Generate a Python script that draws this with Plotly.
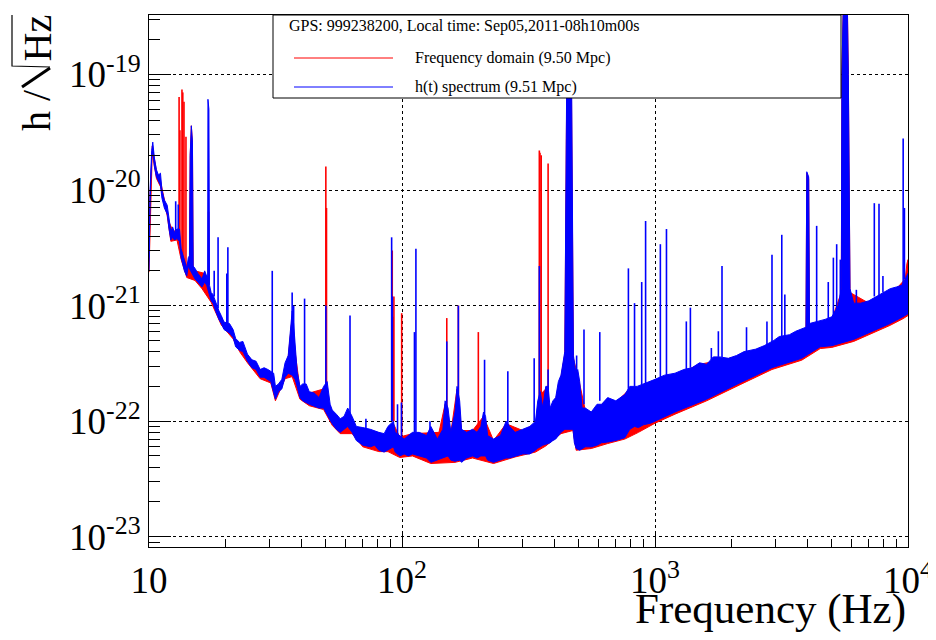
import plotly.graph_objects as go

# ---------------- data ----------------
# h(t) spectrum (blue): upper / lower edge of the noise band
ht_band_f_hi = [10.0, 10.1, 10.25, 10.35, 10.5, 10.7, 10.9, 11.1, 11.25, 11.5, 11.8, 12.0, 12.2, 12.4, 12.6,
                12.9, 13.2, 13.4, 13.8, 14.1, 14.3, 14.45, 14.55, 14.7, 14.85, 14.95, 15.2, 15.6, 16.2, 16.6,
                16.9, 17.05, 17.1, 17.25, 17.35, 17.6, 17.9, 18.4, 18.9, 19.3, 19.8, 20.8, 21.5, 22.0, 22.8,
                23.5, 24.5, 25.5, 26.5, 27.5, 28.5, 29.5, 30.3, 31.1, 31.6, 32.5, 33.5, 34.5, 35.5, 36.2,
                36.8, 37.3, 37.8, 38.5, 39.5, 40.5, 41.8, 43.0, 45.0, 47.0, 49.0, 50.6, 52.0, 53.0, 55.0,
                57.0, 59.0, 61.0, 63.5, 66.0, 70.0, 75.0, 81.0, 85.0, 88.0, 92.5, 94.0, 98.0, 102, 106,
                110, 117, 125, 130, 138, 145, 148, 152, 156, 162, 165, 169, 172, 180, 190,
                198, 205, 210, 214, 218, 230, 245, 258, 266, 280, 300, 320, 337, 344, 352,
                360, 370, 378, 385, 395, 405, 415, 425, 440, 446, 450, 466, 470, 476, 488,
                495, 504, 515, 530, 560, 590, 615, 650, 700, 760, 795, 850, 900, 960, 1000,
                1090, 1200, 1300, 1400, 1500, 1600, 1700, 1800, 1950, 2100, 2250, 2500, 2700, 2950, 3100,
                3400, 3600, 3850, 3950, 3980, 4050, 4080, 4300, 4700, 5000, 5300, 5450, 5480, 5560, 5750,
                5810, 5860, 5900, 6100, 6500, 7000, 7500, 8000, 8500, 9000, 9450, 9750, 10000]
ht_band_hi = [2.6e-21, 1.0e-20, 2.2e-20, 2.6e-20, 1.9e-20, 1.5e-20, 1.35e-20, 1.4e-20, 1.0e-20, 8.2e-21, 7.4e-21, 5.5e-21, 4.4e-21, 4.8e-21, 4.3e-21,
              4.6e-21, 4.6e-21, 3.1e-21, 2.4e-21, 2.1e-21, 2.6e-21, 2.7e-21, 2.0e-20, 3.6e-20, 2.6e-20, 2.2e-21, 2.1e-21, 1.9e-21, 1.7e-21, 2.0e-21,
              1.8e-21, 1.8e-21, 6.1e-20, 5.0e-20, 1.5e-21, 1.3e-21, 1.25e-21, 1.05e-21, 9.0e-22, 8.2e-22, 7.2e-22, 7.0e-22, 6.2e-22, 5.2e-22, 4.8e-22,
              4.9e-22, 3.8e-22, 3.4e-22, 3.3e-22, 2.8e-22, 2.9e-22, 2.8e-22, 2.7e-22, 2.6e-22, 2.0e-22, 2.1e-22, 2.3e-22, 3.2e-22, 3.7e-22, 6.0e-22,
              9.0e-22, 7.0e-22, 4.2e-22, 2.7e-22, 2.0e-22, 2.1e-22, 2.1e-22, 1.8e-22, 1.75e-22, 1.6e-22, 2.0e-22, 2.2e-22, 1.4e-22, 1.25e-22, 1.15e-22,
              1.05e-22, 1.1e-22, 1.3e-22, 1.1e-22, 9.0e-23, 8.8e-23, 8.5e-23, 8.0e-23, 7.8e-23, 9.0e-23, 1.0e-22, 8.0e-23, 7.5e-23, 7.0e-23, 7.5e-23,
              8.0e-23, 8.0e-23, 7.5e-23, 9.0e-23, 7.0e-23, 8.5e-23, 1.5e-22, 1.3e-22, 8.0e-23, 1.2e-22, 2.0e-22, 1.5e-22, 8.5e-23, 8.0e-23, 8.5e-23,
              8.0e-23, 9.0e-23, 1.2e-22, 1.1e-22, 7.5e-23, 7.0e-23, 7.5e-23, 1.0e-22, 9.0e-23, 8.0e-23, 8.5e-23, 9.0e-23, 1.0e-22, 1.5e-22, 1.8e-22,
              1.3e-22, 2.0e-22, 2.0e-22, 1.3e-22, 1.5e-22, 1.6e-22, 2.2e-22, 2.5e-22, 4.0e-22, 2.8e-20, 4.0e-19, 4.0e-19, 3.0e-20, 3.7e-22, 2.5e-22,
              2.8e-22, 2.2e-22, 1.3e-22, 1.3e-22, 1.2e-22, 1.4e-22, 1.4e-22, 1.6e-22, 1.5e-22, 1.7e-22, 2.0e-22, 2.0e-22, 2.1e-22, 2.2e-22, 2.3e-22,
              2.5e-22, 2.6e-22, 2.8e-22, 2.9e-22, 3.2e-22, 3.1e-22, 3.6e-22, 3.6e-22, 3.5e-22, 3.7e-22, 4.0e-22, 4.2e-22, 4.5e-22, 5.0e-22, 5.4e-22,
              5.6e-22, 6.0e-22, 6.3e-22, 6.5e-22, 1.44e-20, 1.3e-20, 7.0e-22, 7.2e-22, 7.6e-22, 8.0e-22, 1.0e-21, 1.4e-21, 1.0e-19, 5.0e-19, 5.0e-19,
              1.0e-19, 3.8e-21, 1.4e-21, 1.05e-21, 1.05e-21, 1.1e-21, 1.2e-21, 1.3e-21, 1.4e-21, 1.45e-21, 1.5e-21, 1.7e-21, 1.9e-21]

ht_band_f_lo = [10.0, 10.1, 10.25, 10.35, 10.5, 10.7, 10.9, 11.1, 11.25, 11.5, 11.8, 12.0, 12.2, 12.4, 12.6,
                12.9, 13.2, 13.4, 13.8, 14.1, 14.3, 14.6, 15.2, 15.6, 16.2, 16.6, 16.9, 17.6, 17.9, 18.4,
                18.9, 19.3, 19.8, 20.8, 21.5, 22.0, 22.8, 23.5, 24.5, 25.5, 26.5, 27.5, 28.5, 29.5, 30.3,
                31.6, 32.5, 33.5, 34.5, 35.5, 36.8, 37.8, 38.5, 39.5, 40.5, 43.0, 45.0, 47.0, 49.0, 51.0,
                53.0, 55.0, 57.0, 59.0, 61.0, 63.5, 66.0, 70.0, 75.0, 78.0, 81.0, 85.0, 88.0, 92.5, 94.0,
                98.0, 102, 106, 110, 117, 125, 130, 138, 145, 152, 156, 162, 169, 172, 180,
                190, 198, 205, 214, 218, 230, 245, 258, 266, 280, 300, 320, 337, 342, 352,
                360, 370, 385, 395, 405, 415, 425, 440, 474, 480, 488, 504, 530, 560, 590,
                615, 650, 700, 760, 795, 830, 860, 900, 960, 1000, 1200, 1600, 2170, 2900, 3800,
                4500, 5000, 6100, 7270, 8500, 9550, 10000]
ht_band_lo = [2.0e-21, 8.0e-21, 1.9e-20, 2.2e-20, 1.6e-20, 1.3e-20, 1.2e-20, 1.1e-20, 8.5e-21, 7.0e-21, 6.2e-21, 4.6e-21, 3.7e-21, 3.9e-21, 3.7e-21,
              3.8e-21, 3.6e-21, 2.6e-21, 2.0e-21, 1.8e-21, 2.2e-21, 2.0e-21, 1.7e-21, 1.6e-21, 1.45e-21, 1.6e-21, 1.5e-21, 1.1e-21, 1.05e-21, 8.8e-22,
              7.6e-22, 7.0e-22, 6.2e-22, 5.8e-22, 5.3e-22, 4.4e-22, 4.1e-22, 4.0e-22, 3.3e-22, 2.9e-22, 2.8e-22, 2.4e-22, 2.4e-22, 2.3e-22, 2.2e-22,
              1.55e-22, 1.8e-22, 1.9e-22, 2.4e-22, 2.6e-22, 2.5e-22, 2.3e-22, 2.0e-22, 1.6e-22, 1.5e-22, 1.4e-22, 1.35e-22, 1.3e-22, 1.3e-22, 1.1e-22,
              9.5e-23, 8.5e-23, 8.0e-23, 8.5e-23, 9.0e-23, 8.0e-23, 6.8e-23, 6.2e-23, 6.0e-23, 6.2e-23, 5.6e-23, 5.4e-23, 5.6e-23, 6.0e-23, 5.4e-23,
              5.0e-23, 5.2e-23, 5.0e-23, 5.2e-23, 5.0e-23, 4.8e-23, 4.4e-23, 4.6e-23, 4.8e-23, 5.0e-23, 4.6e-23, 4.5e-23, 4.6e-23, 4.4e-23, 4.8e-23,
              5.0e-23, 4.8e-23, 5.0e-23, 5.0e-23, 4.6e-23, 4.4e-23, 4.6e-23, 4.8e-23, 4.8e-23, 5.0e-23, 5.2e-23, 5.2e-23, 5.6e-23, 5.8e-23, 6.0e-23,
              6.2e-23, 6.3e-23, 6.5e-23, 6.8e-23, 7.0e-23, 7.5e-23, 8.0e-23, 8.5e-23, 8.5e-23, 6.5e-23, 5.8e-23, 5.6e-23, 6.0e-23, 6.0e-23, 6.2e-23,
              6.5e-23, 6.6e-23, 6.8e-23, 7.2e-23, 8.5e-23, 9.0e-23, 8.8e-23, 9.3e-23, 9.6e-23, 1.0e-22, 1.2e-22, 1.55e-22, 2.15e-22, 2.9e-22, 3.5e-22,
              4.4e-22, 4.5e-22, 5.1e-22, 6.0e-22, 7.0e-22, 8.0e-22, 8.5e-22]

# h(t) spectrum (blue): narrow lines  (frequency, top, foot)
ht_line_f = [12.75, 13.05, 18.1, 18.75, 20.3, 20.5, 30.7, 36.8, 37.3, 41.2, 50.0, 62.3, 72.0, 91.0, 91.6,
             96.0, 99.5, 112, 113.5, 129, 150.3, 167, 212, 262, 333, 349, 378, 490, 524, 605,
             785, 830, 886, 918, 1050, 1110, 1330, 1380, 1670, 1780, 1840, 2300, 2770, 2900, 3170,
             3260, 4355, 4840, 5070, 5225, 5400, 6250, 7360, 7680, 7960, 9570, 9680]
ht_line_top = [8.0e-21, 7.5e-21, 2.0e-21, 3.9e-21, 1.9e-21, 3.2e-21, 2.0e-21, 1.3e-21, 1.0e-21, 1.15e-21, 1.0e-21, 8.2e-22, 1.05e-22, 3.9e-21, 1.2e-21,
               1.4e-22, 1.45e-22, 5.9e-22, 3.1e-21, 1.0e-22, 4.9e-22, 1.0e-21, 3.4e-22, 2.7e-22, 3.5e-22, 2.2e-21, 2.8e-22, 3.7e-22, 6.2e-22, 5.9e-22,
               2.1e-21, 1.05e-21, 1.6e-21, 5.4e-21, 3.4e-21, 4.6e-21, 7.3e-22, 9.6e-22, 4.3e-22, 6.0e-22, 2.2e-21, 6.5e-22, 7.3e-22, 2.75e-21, 4.1e-21,
               1.25e-21, 4.9e-21, 1.6e-21, 2.6e-21, 3.4e-21, 2.5e-21, 1.37e-21, 7.7e-21, 7.6e-21, 1.8e-21, 2.8e-20, 7.0e-21]
ht_line_foot = [4.4e-21, 4.4e-21, 1.2e-21, 9.5e-22, 7.0e-22, 7.0e-22, 2.6e-22, 5.0e-22, 4.0e-22, 2.1e-22, 2.0e-22, 1.1e-22, 8.0e-23, 1.0e-22, 1.0e-22,
                7.5e-23, 7.0e-23, 8.0e-23, 8.0e-23, 7.0e-23, 1.3e-22, 1.5e-22, 1.1e-22, 9.0e-23, 1.0e-22, 1.5e-22, 1.5e-22, 1.3e-22, 1.4e-22, 1.5e-22,
                1.8e-22, 2.0e-22, 2.0e-22, 2.1e-22, 2.4e-22, 2.5e-22, 2.8e-22, 2.9e-22, 3.4e-22, 3.6e-22, 3.6e-22, 4.0e-22, 4.5e-22, 4.5e-22, 5.4e-22,
                5.4e-22, 7.2e-22, 7.8e-22, 8.0e-22, 9.0e-22, 1.2e-21, 1.0e-21, 1.2e-21, 1.2e-21, 1.3e-21, 1.5e-21, 1.7e-21]

# Frequency domain (red): upper / lower edge of the noise band
fd_band_f_hi = [10.0, 10.1, 10.3, 10.5, 10.8, 11.1, 11.5, 12.0, 12.4, 13.0, 13.4, 14.1, 14.45, 14.55, 14.7,
                14.85, 14.95, 15.2, 16.6, 17.6, 18.4, 18.9, 19.8, 20.8, 22.0, 24.5, 27.5, 30.3, 31.6, 33.5,
                35.5, 36.8, 37.8, 39.5, 43.0, 49.0, 53.0, 57.0, 66.0, 75.0, 85.0, 92.5, 98.0, 110, 140,
                148, 156, 165, 172, 190, 210, 230, 258, 300, 337, 352, 370, 385, 405, 425,
                440, 446, 450, 466, 470, 476, 504, 530, 560, 650, 700, 795, 900, 1000, 1200,
                1500, 2100, 2700, 3400, 3950, 3980, 4050, 4080, 5000, 5450, 5480, 5560, 5750, 5810, 5860,
                5900, 7000, 8000, 9000, 9750, 9900, 10000]
fd_band_hi = [2.4e-21, 9.0e-21, 2.4e-20, 1.8e-20, 1.3e-20, 1.2e-20, 8.0e-21, 5.3e-21, 4.5e-21, 4.3e-21, 3.0e-21, 2.2e-21, 2.5e-21, 2.0e-20, 3.6e-20,
              2.6e-20, 2.1e-21, 2.0e-21, 1.9e-21, 1.25e-21, 1.0e-21, 8.8e-22, 7.0e-22, 6.8e-22, 5.0e-22, 3.7e-22, 2.8e-22, 2.6e-22, 1.9e-22, 2.2e-22,
              3.6e-22, 8.0e-22, 4.0e-22, 1.9e-22, 1.75e-22, 1.9e-22, 1.2e-22, 1.0e-22, 8.8e-23, 8.3e-23, 7.6e-23, 9.5e-23, 7.3e-23, 7.8e-23, 8.0e-23,
              1.4e-22, 8.0e-23, 1.9e-22, 8.3e-23, 8.3e-23, 1.1e-22, 6.8e-23, 9.5e-23, 8.3e-23, 9.5e-23, 1.7e-22, 1.9e-22, 1.25e-22, 1.55e-22, 2.4e-22,
              3.8e-22, 2.5e-20, 2.0e-19, 2.0e-19, 2.5e-20, 3.5e-22, 2.1e-22, 1.25e-22, 1.15e-22, 1.55e-22, 1.45e-22, 1.9e-22, 2.0e-22, 2.2e-22, 2.5e-22,
              3.1e-22, 3.6e-22, 4.4e-22, 5.4e-22, 6.2e-22, 1.4e-20, 1.25e-20, 6.8e-22, 7.6e-22, 1.3e-21, 1.0e-19, 5.0e-19, 5.0e-19, 1.0e-19, 3.6e-21,
              1.3e-21, 1.05e-21, 1.25e-21, 1.4e-21, 1.7e-21, 2.3e-21, 2.5e-21]

fd_band_f_lo = [10.0, 10.3, 10.7, 11.1, 11.8, 12.2, 12.9, 13.4, 14.1, 15.2, 16.2, 17.6, 18.4, 19.3, 21.5,
                22.8, 24.5, 27.5, 30.3, 31.6, 34.5, 36.8, 39.5, 43.0, 49.0, 53.0, 57.0, 63.5, 70.0, 81.0,
                88.0, 98.0, 110, 130, 162, 190, 230, 280, 337, 370, 425, 474, 488, 560, 650,
                760, 860, 1000, 1200, 1600, 2170, 2900, 3800, 4500, 5000, 6100, 7270, 8500, 9550, 10000]
fd_band_lo = [1.95e-21, 2.1e-20, 1.26e-20, 1.07e-20, 6.0e-21, 3.6e-21, 3.7e-21, 2.5e-21, 1.75e-21, 1.65e-21, 1.4e-21, 1.07e-21, 8.6e-22, 6.8e-22, 5.15e-22,
              4.0e-22, 3.2e-22, 2.33e-22, 2.14e-22, 1.5e-22, 2.33e-22, 2.43e-22, 1.55e-22, 1.36e-22, 1.26e-22, 9.2e-23, 7.8e-23, 7.8e-23, 6.0e-23, 5.45e-23,
              5.45e-23, 4.85e-23, 5.0e-23, 4.3e-23, 4.4e-23, 4.8e-23, 4.3e-23, 4.9e-23, 5.4e-23, 6.1e-23, 7.8e-23, 8.3e-23, 5.6e-23, 5.8e-23, 6.4e-23,
              7.0e-23, 8.0e-23, 9.6e-23, 1.15e-22, 1.5e-22, 2.07e-22, 2.8e-22, 3.37e-22, 4.25e-22, 4.35e-22, 4.9e-22, 5.8e-22, 6.75e-22, 7.7e-22, 8.2e-22]

# Frequency domain (red): narrow lines  (frequency, top, foot)
fd_line_f = [13.15, 13.25, 13.5, 13.6, 13.75, 14.0, 17.2, 50.0, 50.3, 91.5, 92.2, 92.9, 99.7, 150.3, 167,
             200.3, 349, 351, 355, 378]
fd_line_top = [6.4e-20, 3.3e-20, 7.4e-20, 7.0e-20, 5.8e-20, 2.9e-20, 6.5e-21, 1.6e-20, 7.0e-21, 3.0e-21, 8.0e-22, 1.2e-21, 8.6e-22, 7.8e-22, 1.0e-21,
               5.9e-22, 2.2e-20, 2.1e-20, 2.0e-20, 1.7e-20]
fd_line_foot = [4.0e-21, 3.0e-21, 2.5e-21, 2.5e-21, 2.4e-21, 2.2e-21, 1.5e-21, 2.0e-22, 2.0e-22, 1.0e-22, 1.0e-22, 1.0e-22, 7.0e-23, 1.3e-22, 1.5e-22,
                8.0e-23, 1.5e-22, 1.5e-22, 1.5e-22, 1.5e-22]

series_names = ["Frequency domain (9.50 Mpc)", "h(t) spectrum (9.51 Mpc)"]
legend_header = "GPS: 999238200, Local time: Sep05,2011-08h10m00s"

x_tick_vals = [10, 100, 1000, 10000]
x_tick_text = ["10", "10<sup>2</sup>", "10<sup>3</sup>", "10<sup>4</sup>"]
y_tick_vals = [1e-23, 1e-22, 1e-21, 1e-20, 1e-19]
y_tick_text = ["10<sup>-23</sup>", "10<sup>-22</sup>", "10<sup>-21</sup>", "10<sup>-20</sup>", "10<sup>-19</sup>"]
x_minor_vals = [m * 10 ** k for k in (1, 2, 3) for m in range(2, 10)]
y_minor_vals = [m * 10.0 ** k for k in range(-24, -18) for m in range(2, 10)]

FONT = "Liberation Serif"
RED = "#ff0000"
BLUE = "#0000ff"

# plot frame in page pixels (page body has the browser's default 8 px margin)
PX_L, PX_R, PX_T, PX_B = 149, 908, 15, 547


def px(xp, yp):
    """page pixel -> paper coordinates of the plot frame"""
    return (xp - PX_L) / (PX_R - PX_L), (PX_B - yp) / (PX_B - PX_T)


def band_trace(f_hi, v_hi, f_lo, v_lo, color, name):
    return go.Scatter(x=f_hi + f_lo[::-1], y=v_hi + v_lo[::-1], mode="lines",
                      fill="toself", fillcolor=color, line=dict(color=color, width=1),
                      name=name, hoverinfo="skip")


def line_trace(f, top, foot, color, name):
    xs, ys = [], []
    for fi, t, b in zip(f, top, foot):
        xs += [fi, fi, None]
        ys += [b, t, None]
    return go.Scatter(x=xs, y=ys, mode="lines", line=dict(color=color, width=1.6),
                      name=name, hoverinfo="skip", connectgaps=False)


fig = go.Figure()
fig.add_trace(band_trace(fd_band_f_hi, fd_band_hi, fd_band_f_lo, fd_band_lo, RED, series_names[0]))
fig.add_trace(line_trace(fd_line_f, fd_line_top, fd_line_foot, RED, series_names[0]))
fig.add_trace(band_trace(ht_band_f_hi, ht_band_hi, ht_band_f_lo, ht_band_lo, BLUE, series_names[1]))
fig.add_trace(line_trace(ht_line_f, ht_line_top, ht_line_foot, BLUE, series_names[1]))

fig.update_layout(
    width=928, height=632, autosize=False,
    margin=dict(l=PX_L - 8, r=936 - PX_R, t=PX_T - 8, b=640 - PX_B),
    paper_bgcolor="white", plot_bgcolor="white",
    showlegend=False,
    font=dict(family=FONT, color="black"),
)
fig.update_xaxes(
    type="log", range=[1, 4], automargin=False,
    tickmode="array", tickvals=x_tick_vals, ticktext=x_tick_text,
    tickfont=dict(family=FONT, size=37, color="black"),
    ticks="inside", ticklen=16, tickcolor="black", tickwidth=1,
    ticklabelstandoff=1,
    minor=dict(tickmode="array", tickvals=x_minor_vals, ticks="inside", ticklen=8,
               tickcolor="black", showgrid=False),
    showgrid=True, gridcolor="black", gridwidth=1, griddash="dot",
    showline=True, linecolor="black", linewidth=1, mirror=True,
    zeroline=False,
)
fig.update_yaxes(
    type="log", range=[-23.089, -18.485], automargin=False,
    tickmode="array", tickvals=y_tick_vals, ticktext=y_tick_text,
    tickfont=dict(family=FONT, size=37, color="black"),
    ticks="inside", ticklen=22, tickcolor="black", tickwidth=1,
    ticklabelstandoff=0,
    minor=dict(tickmode="array", tickvals=y_minor_vals, ticks="inside", ticklen=11,
               tickcolor="black", showgrid=False),
    showgrid=True, gridcolor="black", gridwidth=1, griddash="dot",
    showline=True, linecolor="black", linewidth=1, mirror=True,
    zeroline=False,
)

# legend box (ROOT style, white filled, drawn over the data)
lx0, ly0 = px(273, 98)
lx1, ly1 = px(841, 15)
fig.add_shape(type="rect", xref="paper", yref="paper", x0=lx0, x1=lx1, y0=ly0, y1=ly1,
              fillcolor="white", line=dict(color="black", width=1), layer="above")
for ypix, col, name in ((58, RED, series_names[0]), (87, BLUE, series_names[1])):
    a0, b0 = px(294, ypix)
    a1, _ = px(393, ypix)
    fig.add_shape(type="line", xref="paper", yref="paper", x0=a0, x1=a1, y0=b0, y1=b0,
                  line=dict(color=col, width=1), layer="above")
    tx, _ = px(413, ypix)
    fig.add_annotation(xref="paper", yref="paper", x=tx, y=b0, xanchor="left", yanchor="middle",
                       text=name, showarrow=False, font=dict(family=FONT, size=16, color="black"))
hx, hy = px(287, 26)
fig.add_annotation(xref="paper", yref="paper", x=hx, y=hy, xanchor="left", yanchor="middle",
                   text=legend_header, showarrow=False, font=dict(family=FONT, size=16, color="black"))

# x axis title
fx, fy = px(908, 583)
fig.add_annotation(xref="paper", yref="paper", x=fx, y=fy, xanchor="right", yanchor="top",
                   text="Frequency (Hz)", showarrow=False, font=dict(family=FONT, size=43, color="black"))

# y axis title  h / sqrt(Hz), drawn rotated like the ROOT label
hx1, hy1 = px(36, 110)
fig.add_annotation(xref="paper", yref="paper", x=hx1, y=hy1, xanchor="center", yanchor="middle",
                   textangle=-90, text="h /", showarrow=False, font=dict(family=FONT, size=40, color="black"))
zx, zy = px(37, 38.5)
fig.add_annotation(xref="paper", yref="paper", x=zx, y=zy, xanchor="center", yanchor="middle",
                   textangle=-90, text="Hz", showarrow=False, font=dict(family=FONT, size=40, color="black"))
r0 = px(22, 87)
r1 = px(50, 68)
fig.add_shape(type="line", xref="paper", yref="paper", x0=r0[0], y0=r0[1], x1=r1[0], y1=r1[1],
              line=dict(color="black", width=3))
p1 = px(50, 67)
p2 = px(12, 66)
p3 = px(12, 15)
fig.add_shape(type="path", xref="paper", yref="paper",
              path=f"M {p1[0]},{p1[1]} L {p2[0]},{p2[1]} L {p3[0]},{p3[1]}",
              line=dict(color="black", width=1.2))

fig.write_html("out.html")
